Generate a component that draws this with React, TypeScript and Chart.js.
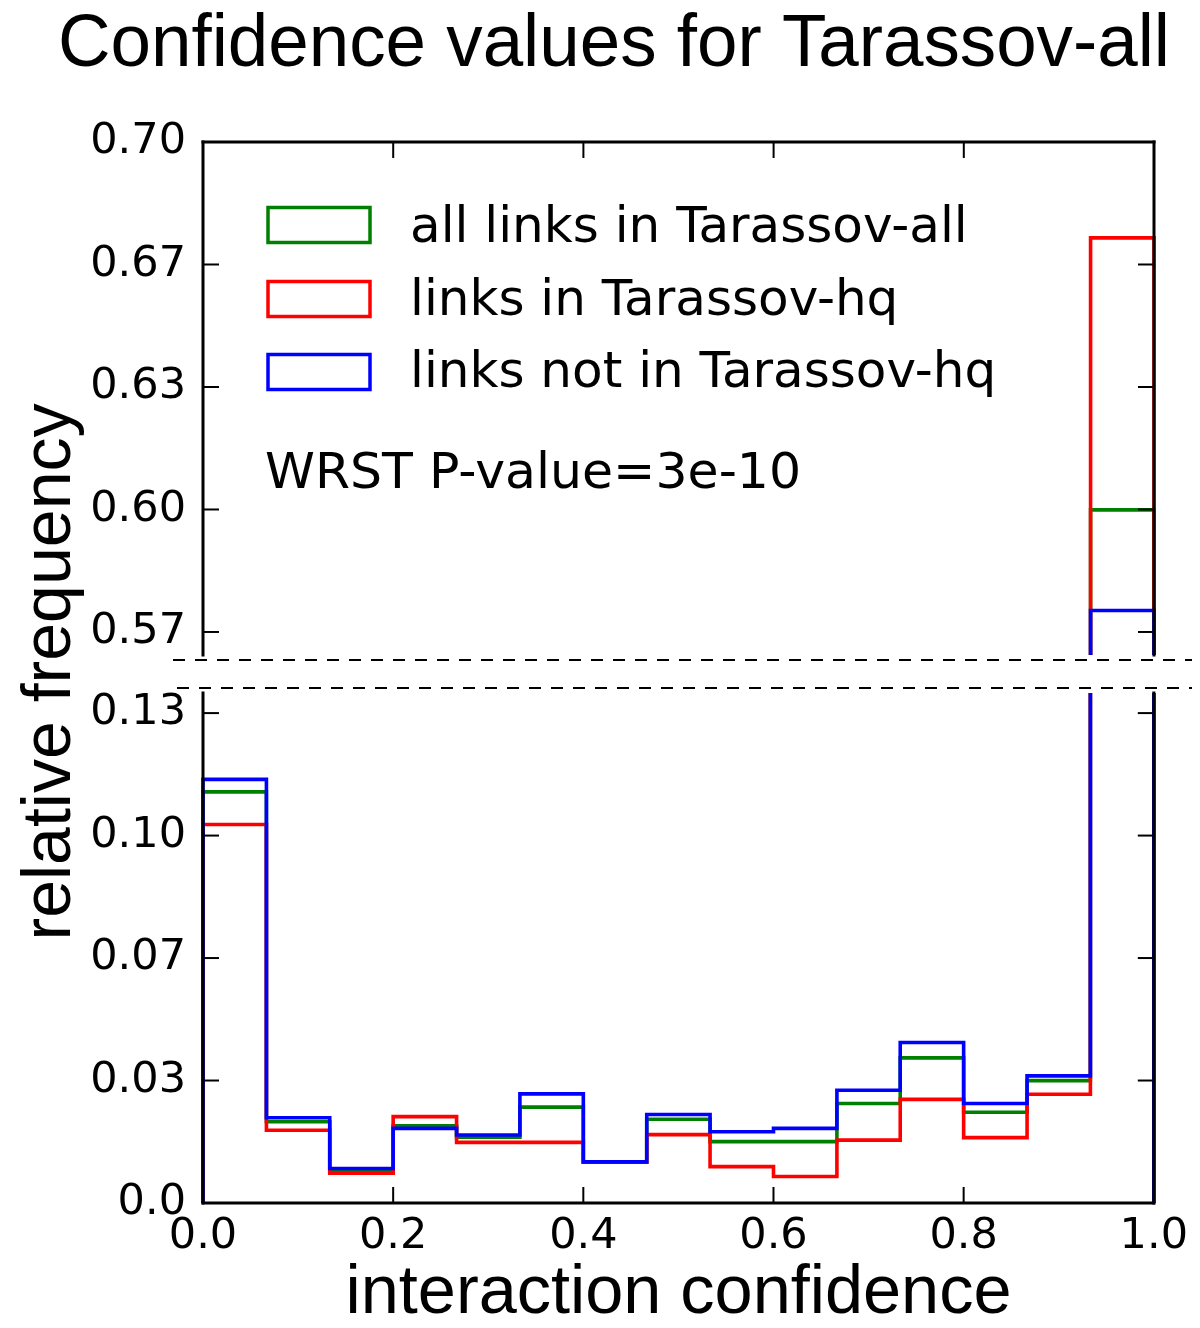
import React, { useEffect, useRef } from "react";
import { Chart, registerables } from "chart.js";

Chart.register(...registerables);

// ---------------- data ----------------
const binEdges = [0, 0.0667, 0.1333, 0.2, 0.2667, 0.3333, 0.4, 0.4667, 0.5333, 0.6, 0.6667, 0.7333, 0.8, 0.8667, 0.9333, 1.0];
const allLinks = [0.1119, 0.0221, 0.0088, 0.021, 0.0179, 0.0261, 0.0112, 0.0228, 0.0167, 0.0167, 0.0271, 0.0395, 0.0247, 0.0333, 0.5999];
const hqLinks = [0.103, 0.0198, 0.0081, 0.0235, 0.0165, 0.0165, 0.0112, 0.0186, 0.0099, 0.0072, 0.0171, 0.0282, 0.0178, 0.0296, 0.6739];
const notHqLinks = [0.1153, 0.0232, 0.0094, 0.0203, 0.0185, 0.0297, 0.0112, 0.0241, 0.0194, 0.0203, 0.0307, 0.0437, 0.0271, 0.0346, 0.5725];
const seriesLabels = ["all links in Tarassov-all", "links in Tarassov-hq", "links not in Tarassov-hq"];
const seriesColors = ["#008000", "#ff0000", "#0000ff"];

const xTickValues = [0, 0.2, 0.4, 0.6, 0.8, 1.0];
const xTickLabels = ["0.0", "0.2", "0.4", "0.6", "0.8", "1.0"];
const topTickValues = [0.566667, 0.6, 0.633333, 0.666667, 0.7];
const topTickLabels = ["0.57", "0.60", "0.63", "0.67", "0.70"];
const bottomTickValues = [0, 0.033333, 0.066667, 0.1, 0.133333];
const bottomTickLabels = ["0.0", "0.03", "0.07", "0.10", "0.13"];
const topRange = [0.5604, 0.7];
const bottomRange = [0, 0.1388];

const titleText = "Confidence values for Tarassov-all";
const xTitleText = "interaction confidence";
const yTitleText = "relative frequency";
const noteText = "WRST P-value=3e-10";

// ---------------- layout ----------------
const W = 1200;
const H = 1328;
const AX_L = 203;
const AX_R = 1154;
const TOP_T = 142;
const TOP_B = 655;
const BOT_T = 693;
const BOT_B = 1203;
const SANS = '"Liberation Sans", Arial, Helvetica, sans-serif';
const DEJAVU = '"DejaVu Sans", sans-serif';

function stepData(vals: number[]) {
  const last = binEdges.length - 1;
  const pts: { x: number; y: number }[] = [{ x: binEdges[0], y: 0 }];
  vals.forEach((v, i) => pts.push({ x: binEdges[i], y: v }));
  pts.push({ x: binEdges[last], y: vals[vals.length - 1] });
  pts.push({ x: binEdges[last], y: 0 });
  return pts;
}

function makeDatasets() {
  const series = [allLinks, hqLinks, notHqLinks];
  return series.map((vals, i) => ({
    label: seriesLabels[i],
    data: stepData(vals),
    borderColor: seriesColors[i],
    backgroundColor: seriesColors[i],
    borderWidth: 3.6,
    pointRadius: 0,
    pointHoverRadius: 0,
    fill: false,
    tension: 0,
    stepped: "before" as const,
    order: 3 - i,
    clip: { left: 3, right: 3, top: 0, bottom: 0 },
  }));
}

function drawFitted(ctx: CanvasRenderingContext2D, text: string, font: string, targetWidth: number) {
  ctx.font = font;
  const w = ctx.measureText(text).width;
  const s = targetWidth / w;
  ctx.save();
  ctx.scale(s, 1);
  ctx.textAlign = "center";
  ctx.textBaseline = "alphabetic";
  ctx.fillText(text, 0, 0);
  ctx.restore();
}

function line(ctx: CanvasRenderingContext2D, x1: number, y1: number, x2: number, y2: number) {
  ctx.beginPath();
  ctx.moveTo(x1, y1);
  ctx.lineTo(x2, y2);
  ctx.stroke();
}

function drawFrame(chart: any, which: "top" | "bottom") {
  const ctx: CanvasRenderingContext2D = chart.ctx;
  const { left, right, top, bottom } = chart.chartArea;
  const xs = chart.scales.x;
  const ys = chart.scales.y;
  ctx.save();
  ctx.strokeStyle = "#000";
  ctx.lineCap = "square";
  ctx.lineWidth = 3;
  line(ctx, left, top, left, bottom);
  line(ctx, right, top, right, bottom);
  if (which === "top") line(ctx, left, top, right, top);
  else line(ctx, left, bottom, right, bottom);
  ctx.lineCap = "butt";
  ctx.lineWidth = 2;
  const tl = 16;
  const yTicks = which === "top" ? topTickValues : bottomTickValues;
  yTicks.forEach((v) => {
    const y = ys.getPixelForValue(v);
    line(ctx, left, y, left + tl, y);
    line(ctx, right, y, right - tl, y);
  });
  xTickValues.forEach((v) => {
    const x = xs.getPixelForValue(v);
    if (which === "top") line(ctx, x, top, x, top + tl);
    else line(ctx, x, bottom, x, bottom - tl);
  });
  ctx.restore();
}

const topDecor = {
  id: "topDecor",
  afterDraw(chart: any) {
    const ctx: CanvasRenderingContext2D = chart.ctx;
    drawFrame(chart, "top");
    ctx.save();
    ctx.fillStyle = "#000";
    // title
    ctx.save();
    ctx.translate(614, 66);
    drawFitted(ctx, titleText, `74px ${SANS}`, 1112);
    ctx.restore();
    // y title
    ctx.save();
    ctx.translate(70, 672);
    ctx.rotate(-Math.PI / 2);
    drawFitted(ctx, yTitleText, `68px ${SANS}`, 537);
    ctx.restore();
    // legend
    const ds = chart.data.datasets;
    const rowY = [206, 280, 353];
    const baseY = [242, 315, 387];
    ds.forEach((d: any, i: number) => {
      ctx.strokeStyle = d.borderColor;
      ctx.lineWidth = 3.5;
      ctx.strokeRect(268, rowY[i] + 1.5, 102, 35);
      ctx.fillStyle = "#000";
      ctx.font = `50px ${DEJAVU}`;
      ctx.textAlign = "left";
      ctx.textBaseline = "alphabetic";
      ctx.fillText(d.label, 410, baseY[i]);
    });
    // note
    ctx.font = `50.5px ${DEJAVU}`;
    ctx.fillText(noteText, 265, 488);
    // break lines
    ctx.strokeStyle = "#000";
    ctx.lineWidth = 2;
    ctx.setLineDash([12, 10]);
    line(ctx, 173, 660, 1192, 660);
    line(ctx, 177, 688, 1192, 688);
    ctx.setLineDash([]);
    ctx.restore();
  },
};

const bottomDecor = {
  id: "bottomDecor",
  afterDraw(chart: any) {
    const ctx: CanvasRenderingContext2D = chart.ctx;
    drawFrame(chart, "bottom");
    ctx.save();
    ctx.fillStyle = "#000";
    ctx.translate((AX_L + AX_R) / 2, 1313);
    drawFitted(ctx, xTitleText, `68px ${SANS}`, 666);
    ctx.restore();
  },
};

function yScale(range: number[], values: number[], labels: string[]) {
  return {
    type: "linear" as const,
    min: range[0],
    max: range[1],
    afterFit: (s: any) => {
      s.width = AX_L;
    },
    afterBuildTicks: (s: any) => {
      s.ticks = values.map((v) => ({ value: v }));
    },
    grid: { display: false, drawTicks: false },
    border: { display: false },
    ticks: {
      padding: 17,
      color: "#000",
      font: { family: DEJAVU, size: 43 },
      callback: (_v: any, i: number) => labels[i],
    },
  };
}

export default function App() {
  const topRef = useRef<HTMLCanvasElement>(null);
  const botRef = useRef<HTMLCanvasElement>(null);

  useEffect(() => {
    const common = {
      animation: false as const,
      responsive: false,
      devicePixelRatio: 1,
      events: [] as any[],
      plugins: { legend: { display: false }, tooltip: { enabled: false }, title: { display: false } },
    };
    const topChart = new Chart(topRef.current!, {
      type: "line",
      data: { datasets: makeDatasets() as any },
      options: {
        ...common,
        layout: { padding: { left: 0, right: W - AX_R, top: TOP_T, bottom: H - TOP_B } },
        scales: {
          x: { type: "linear", min: 0, max: 1, display: false },
          y: yScale(topRange, topTickValues, topTickLabels) as any,
        },
      } as any,
      plugins: [topDecor],
    });
    const botChart = new Chart(botRef.current!, {
      type: "line",
      data: { datasets: makeDatasets() as any },
      options: {
        ...common,
        layout: { padding: { left: 0, right: W - AX_R, top: BOT_T, bottom: 0 } },
        scales: {
          x: {
            type: "linear",
            min: 0,
            max: 1,
            afterFit: (s: any) => {
              s.height = H - BOT_B;
            },
            afterBuildTicks: (s: any) => {
              s.ticks = xTickValues.map((v) => ({ value: v }));
            },
            grid: { display: false, drawTicks: false },
            border: { display: false },
            ticks: {
              padding: 12,
              color: "#000",
              maxRotation: 0,
              autoSkip: false,
              font: { family: DEJAVU, size: 43, lineHeight: 1 },
              callback: (_v: any, i: number) => xTickLabels[i],
            },
          },
          y: yScale(bottomRange, bottomTickValues, bottomTickLabels) as any,
        },
      } as any,
      plugins: [bottomDecor],
    });
    return () => {
      topChart.destroy();
      botChart.destroy();
    };
  }, []);

  const cs: React.CSSProperties = { position: "absolute", left: 0, top: 0, width: W, height: H };
  return (
    <div style={{ position: "absolute", left: 0, top: 0, width: W, height: H, background: "#fff" }}>
      <canvas ref={topRef} width={W} height={H} style={cs} />
      <canvas ref={botRef} width={W} height={H} style={cs} />
    </div>
  );
}
